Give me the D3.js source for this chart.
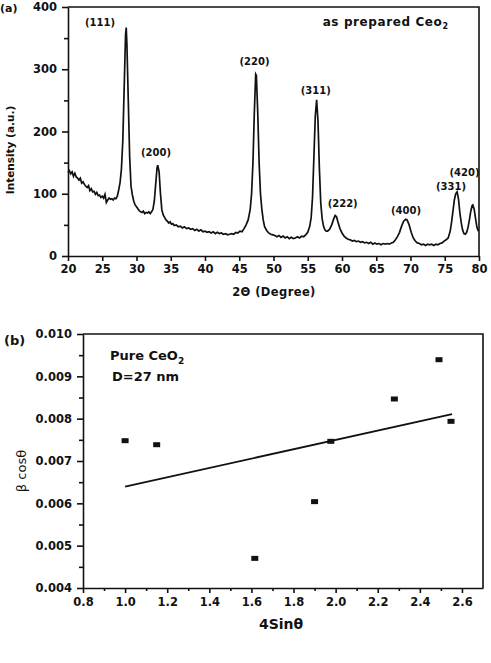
<!DOCTYPE html>
<meta charset="utf-8">
<script src="https://d3js.org/d3.v7.min.js"></script>
<style>
    body { margin: 0; background: #fff; }
    svg text { font-family: "DejaVu Sans", sans-serif; font-weight: bold; fill: #111; }
    .axis path, .axis line { stroke: #111; stroke-width: 1.6px; }
    .axis text { font-size: 11.5px; }
</style>
<div id="chart"></div>
<script>
    // (a) XRD pattern
    var twoTheta = [20.0, 20.2, 20.4, 20.6, 20.8, 21.0, 21.2, 21.4, 21.6, 21.8, 22.0, 22.2, 22.4, 22.6, 22.8, 23.0, 23.2, 23.4, 23.6, 23.8,
        24.0, 24.2, 24.4, 24.6, 24.8, 25.0, 25.2, 25.4, 25.6, 25.8, 26.0, 26.2, 26.4, 26.6, 26.8, 27.0, 27.2, 27.4, 27.6, 27.8,
        28.0, 28.2, 28.4, 28.5, 28.6, 28.8, 29.0, 29.2, 29.4, 29.6, 29.8, 30.0, 30.2, 30.4, 30.6, 30.8, 31.0, 31.2, 31.4, 31.6,
        31.8, 32.0, 32.2, 32.4, 32.6, 32.8, 33.0, 33.1, 33.3, 33.5, 33.7, 33.9, 34.1, 34.3, 34.5, 34.7, 34.9, 35.1, 35.3, 35.5,
        35.8, 36.1, 36.4, 36.7, 37.0, 37.3, 37.6, 37.9, 38.2, 38.5, 38.8, 39.1, 39.4, 39.7, 40.0, 40.3, 40.6, 40.9, 41.2, 41.5,
        41.8, 42.1, 42.4, 42.7, 43.0, 43.3, 43.6, 43.9, 44.2, 44.5, 44.8, 45.1, 45.4, 45.7, 46.0, 46.3, 46.6, 46.8, 47.0, 47.2,
        47.4, 47.5, 47.7, 47.9, 48.1, 48.3, 48.5, 48.7, 49.0, 49.3, 49.6, 49.9, 50.2, 50.5, 50.8, 51.1, 51.4, 51.7, 52.0, 52.3,
        52.6, 52.9, 53.2, 53.5, 53.8, 54.1, 54.4, 54.7, 55.0, 55.3, 55.5, 55.7, 55.9, 56.1, 56.3, 56.5, 56.7, 56.9, 57.1, 57.3,
        57.5, 57.7, 57.9, 58.2, 58.5, 58.8, 59.0, 59.2, 59.4, 59.7, 60.0, 60.3, 60.6, 60.9, 61.2, 61.5, 61.8, 62.1, 62.4, 62.7,
        63.0, 63.3, 63.6, 63.9, 64.2, 64.5, 64.8, 65.1, 65.4, 65.7, 66.0, 66.3, 66.6, 66.9, 67.2, 67.5, 67.8, 68.1, 68.4, 68.7,
        69.0, 69.3, 69.5, 69.8, 70.1, 70.4, 70.7, 71.0, 71.3, 71.6, 71.9, 72.2, 72.5, 72.8, 73.1, 73.4, 73.7, 74.0, 74.3, 74.6,
        74.9, 75.2, 75.5, 75.8, 76.0, 76.2, 76.4, 76.6, 76.8, 77.0, 77.2, 77.4, 77.6, 77.8, 78.0, 78.2, 78.4, 78.6, 78.8, 79.0,
        79.1, 79.3, 79.5, 79.7, 79.9];
    var intensity = [134, 137, 132, 135, 128, 133, 127, 125, 122, 125, 117, 119, 115, 112, 110, 113, 105, 108, 103, 104,
        99, 102, 97, 98, 94, 96, 93, 99, 86, 90, 93, 91, 92, 90, 93, 92, 96, 106, 118, 140,
        185, 270, 355, 367, 340, 250, 160, 112, 98, 88, 82, 79, 76, 73, 71, 70, 72, 68, 70, 69,
        71, 68, 71, 75, 88, 115, 142, 146, 135, 100, 74, 66, 62, 58, 56, 53, 55, 51, 52, 49,
        50, 47, 48, 45, 47, 44, 45, 43, 44, 41, 43, 40, 42, 39, 40, 38, 39, 37, 39, 36,
        38, 36, 37, 35, 36, 34, 35, 36, 35, 38, 37, 40, 39, 44, 50, 58, 75, 100, 150, 230,
        292, 290, 230, 150, 100, 75, 58, 47, 41, 37, 35, 34, 33, 31, 33, 30, 32, 29, 31, 28,
        30, 28, 29, 31, 29, 32, 31, 34, 38, 48, 62, 95, 160, 225, 251, 215, 140, 85, 60, 48,
        42, 40, 40, 43, 50, 60, 65, 63, 55, 44, 37, 32, 29, 27, 26, 24, 25, 23, 24, 22,
        23, 21, 22, 20, 22, 19, 21, 19, 20, 18, 20, 19, 20, 19, 21, 22, 26, 31, 38, 48,
        56, 59, 58, 50, 38, 29, 24, 21, 20, 18, 19, 17, 19, 18, 19, 17, 19, 18, 20, 21,
        24, 26, 29, 40, 55, 72, 90, 100, 103, 92, 70, 54, 42, 36, 35, 38, 46, 58, 72, 81,
        82, 75, 60, 46, 40];

    // peak indices and where their labels sit (2θ, intensity)
    var peakNames = ["(111)", "(200)", "(220)", "(311)", "(222)", "(400)", "(331)", "(420)"];
    var peakLabelX = [24.67, 32.85, 47.23, 56.16, 60.1, 69.34, 75.91, 77.88];
    var peakLabelY = [369.5, 160, 307, 260, 79, 67.5, 106, 128.5];

    var xTicksA = [20, 25, 30, 35, 40, 45, 50, 55, 60, 65, 70, 75, 80];
    var yTicksA = [0, 100, 200, 300, 400];

    // (b) Williamson-Hall plot
    var sinX = [1.0, 1.15, 1.616, 1.90, 1.977, 2.279, 2.491, 2.548];
    var betaCos = [0.00748, 0.007385, 0.0047, 0.00604, 0.007465, 0.008465, 0.009393, 0.007937];
    var fitX = [1.0, 2.553];
    var fitY = [0.006393, 0.00811];

    var xTicksB = [0.8, 1.0, 1.2, 1.4, 1.6, 1.8, 2.0, 2.2, 2.4, 2.6];
    var yTicksB = [0.004, 0.005, 0.006, 0.007, 0.008, 0.009, 0.010];

    var svg = d3.select("#chart").append("svg")
        .attr("width", 491)
        .attr("height", 663);

    // ---------- panel (a) ----------
    var xa = d3.scaleLinear().domain([20, 80]).range([68, 479]);
    var ya = d3.scaleLinear().domain([0, 400]).range([256, 7]);

    // minor ticks first
    svg.append("g")
        .attr("class", "axis")
        .attr("transform", "translate(68,0)")
        .call(d3.axisLeft(ya).tickValues(d3.range(50, 400, 100)).tickSize(4).tickFormat(""))
        .select(".domain").remove();

    svg.append("g")
        .attr("class", "axis")
        .attr("transform", "translate(68,0)")
        .call(d3.axisLeft(ya).tickValues(yTicksA).tickSize(6).tickPadding(5).tickSizeOuter(0));

    svg.append("g")
        .attr("class", "axis")
        .attr("transform", "translate(0,256)")
        .call(d3.axisBottom(xa).tickValues(xTicksA).tickSize(5).tickPadding(4).tickSizeOuter(0));

    // frame top + right
    svg.append("path")
        .attr("d", "M" + xa(20) + "," + ya(400) + "H" + xa(80) + "V" + ya(0))
        .attr("fill", "none")
        .attr("stroke", "#111")
        .attr("stroke-width", 1.6);

    var xrd = twoTheta.map(function (t, i) { return [t, intensity[i]]; });
    svg.append("path")
        .datum(xrd)
        .attr("fill", "none")
        .attr("stroke", "#111")
        .attr("stroke-width", 1.7)
        .attr("d", d3.line().x(function (d) { return xa(d[0]); }).y(function (d) { return ya(d[1]); }));

    svg.append("g").selectAll("text")
        .data(peakNames)
        .enter().append("text")
        .attr("x", function (d, i) { return xa(peakLabelX[i]); })
        .attr("y", function (d, i) { return ya(peakLabelY[i]); })
        .attr("text-anchor", "middle")
        .style("font-size", "10px")
        .text(function (d) { return d; });

    var t1 = svg.append("text")
        .attr("x", xa(57.18))
        .attr("y", ya(369.5))
        .style("font-size", "12px")
        .style("letter-spacing", "0.6px");
    t1.append("tspan").text("as prepared Ceo");
    t1.append("tspan").attr("dy", 3).style("font-size", "8px").text("2");

    svg.append("text")
        .attr("x", 0).attr("y", 12)
        .style("font-size", "11px")
        .text("(a)");

    svg.append("text")
        .attr("transform", "translate(14,150) rotate(-90)")
        .attr("text-anchor", "middle")
        .style("font-size", "10.5px")
        .text("Intensity (a.u.)");

    svg.append("text")
        .attr("x", 274).attr("y", 296)
        .attr("text-anchor", "middle")
        .style("font-size", "11.5px")
        .style("letter-spacing", "0.4px")
        .text("2Θ (Degree)");

    // ---------- panel (b) ----------
    var xb = d3.scaleLinear().domain([0.8, 2.7]).range([83, 483]);
    var yb = d3.scaleLinear().domain([0.004, 0.010]).range([588, 334]);

    svg.append("g")
        .attr("class", "axis")
        .attr("transform", "translate(83,0)")
        .call(d3.axisLeft(yb).tickValues(d3.range(0.0045, 0.010, 0.001)).tickSize(4).tickFormat(""))
        .select(".domain").remove();

    svg.append("g")
        .attr("class", "axis")
        .attr("transform", "translate(83,0)")
        .call(d3.axisLeft(yb).tickValues(yTicksB).tickSize(6).tickPadding(5).tickSizeOuter(0)
            .tickFormat(d3.format(".3f")));

    svg.append("g")
        .attr("class", "axis")
        .attr("transform", "translate(0,588)")
        .call(d3.axisBottom(xb).tickValues(d3.range(0.9, 2.7, 0.2)).tickSize(3).tickFormat(""))
        .select(".domain").remove();

    svg.append("g")
        .attr("class", "axis")
        .attr("transform", "translate(0,588)")
        .call(d3.axisBottom(xb).tickValues(xTicksB).tickSize(5).tickPadding(5).tickSizeOuter(0)
            .tickFormat(d3.format(".1f")));

    svg.append("path")
        .attr("d", "M" + xb(0.8) + "," + yb(0.010) + "H" + xb(2.7) + "V" + yb(0.004))
        .attr("fill", "none")
        .attr("stroke", "#111")
        .attr("stroke-width", 1.6);

    svg.append("line")
        .attr("x1", xb(fitX[0])).attr("y1", yb(fitY[0]))
        .attr("x2", xb(fitX[1])).attr("y2", yb(fitY[1]))
        .attr("stroke", "#111")
        .attr("stroke-width", 1.8);

    svg.append("g").selectAll("rect")
        .data(sinX)
        .enter().append("rect")
        .attr("x", function (d) { return xb(d) - 3.5; })
        .attr("y", function (d, i) { return yb(betaCos[i]) - 2.5; })
        .attr("width", 7)
        .attr("height", 5)
        .attr("fill", "#111");

    var t2 = svg.append("text")
        .attr("x", xb(0.928))
        .attr("y", yb(0.009386))
        .style("font-size", "13px");
    t2.append("tspan").text("Pure CeO");
    t2.append("tspan").attr("dy", 4).style("font-size", "9px").text("2");

    svg.append("text")
        .attr("x", xb(0.938))
        .attr("y", yb(0.00889))
        .style("font-size", "13px")
        .text("D=27 nm");

    svg.append("text")
        .attr("x", 4).attr("y", 345)
        .style("font-size", "13px")
        .text("(b)");

    svg.append("text")
        .attr("transform", "translate(26,471) rotate(-90)")
        .attr("text-anchor", "middle")
        .style("font-size", "13px")
        .style("font-weight", "normal")
        .text("β cosθ");

    svg.append("text")
        .attr("x", 259).attr("y", 629)
        .style("font-size", "14px")
        .text("4Sinθ");
</script>
